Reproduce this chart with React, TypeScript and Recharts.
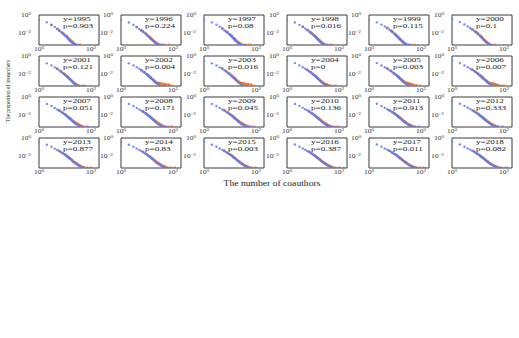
import { ScatterChart, Scatter, XAxis, YAxis, ReferenceArea } from 'recharts'

// years and test p-values shown in each panel
const years = [1995, 1996, 1997, 1998, 1999, 2000, 2001, 2002, 2003, 2004, 2005, 2006, 2007, 2008, 2009, 2010, 2011, 2012, 2013, 2014, 2015, 2016, 2017, 2018]
const pValues = ['0.903', '0.224', '0.08', '0.016', '0.115', '0.1', '0.121', '0.004', '0.016', '0', '0.003', '0.007', '0.051', '0.171', '0.045', '0.136', '0.913', '0.333', '0.877', '0.83', '0.003', '0.387', '0.011', '0.082']
const xTicks = [1, 100]
const yTicks = [1, 0.01]

// [number of coauthors, proportion of researchers]
const b1995 = [[1,.32],[2,.17],[3,.09],[4,.052],[5,.033],[6,.021],[7,.014],[8,.01],[9,.0075],[10,.0058],[11,.0045],[12,.0034],[13,.0028],[14,.0022],[15,.0016],[16,.0013],[18,.001],[20,.0008],[22,.00066],[25,.00055],[29,.00052],[34,.00052]]
const o1995 = [[3,.085],[5,.03],[6,.02],[8,.011],[9,.0085],[11,.0052],[12,.0042],[14,.0026],[15,.002],[17,.0015],[19,.0011],[21,.00085],[24,.0006],[27,.00052],[38,.00052]]
const b1996 = [[1,.34],[2,.16],[3,.088],[4,.05],[5,.031],[6,.021],[7,.015],[8,.011],[9,.0082],[10,.0063],[11,.0048],[12,.0038],[13,.003],[14,.0025],[15,.002],[17,.0015],[19,.0011],[21,.0009],[23,.0007],[26,.00058],[30,.00052],[36,.00052],[48,.00052]]
const o1996 = [[4,.05],[6,.022],[7,.016],[9,.009],[10,.0068],[12,.0043],[13,.0035],[15,.0024],[16,.0019],[18,.0014],[20,.0011],[22,.0009],[25,.0007],[28,.00058],[33,.00052],[42,.00052],[70,.00052]]
const b1997 = [[1,.35],[2,.17],[3,.09],[4,.054],[5,.034],[6,.022],[7,.016],[8,.012],[9,.0086],[10,.0065],[11,.005],[12,.0039],[13,.003],[14,.0023],[15,.0019],[16,.0015],[18,.0011],[20,.00085],[22,.0007],[25,.00055],[28,.00052],[35,.00052]]
const o1997 = [[5,.035],[7,.017],[8,.013],[10,.0072],[11,.0056],[12,.0045],[14,.003],[15,.0025],[17,.0017],[19,.0012],[21,.001],[23,.0008],[26,.00062],[30,.00052],[40,.00052],[55,.00052]]
const b1998 = [[1,.33],[2,.16],[3,.088],[4,.053],[5,.035],[6,.024],[7,.017],[8,.012],[9,.0092],[10,.007],[11,.0055],[12,.0043],[13,.0034],[14,.0027],[15,.0022],[16,.0018],[18,.0013],[20,.001],[22,.0008],[25,.00062],[28,.00052],[33,.00052],[45,.00052]]
const o1998 = [[4,.055],[6,.025],[8,.013],[9,.0098],[11,.006],[12,.0047],[13,.0038],[15,.0025],[17,.0018],[18,.0015],[20,.0011],[23,.00085],[26,.00065],[29,.00055],[36,.00052],[50,.00052]]
const b1999 = [[1,.36],[2,.17],[3,.095],[4,.058],[5,.038],[6,.026],[7,.018],[8,.013],[9,.0098],[10,.0075],[11,.0058],[12,.0046],[13,.0036],[14,.0029],[15,.0023],[16,.0019],[18,.0014],[20,.001],[22,.0008],[24,.00065],[27,.00055],[32,.00052],[40,.00052]]
const o1999 = [[5,.04],[7,.02],[8,.015],[10,.0085],[11,.0065],[12,.005],[14,.0032],[15,.0026],[16,.0021],[18,.0015],[20,.0012],[22,.0009],[25,.0007],[28,.00055],[34,.00052],[55,.00052]]
const b2000 = [[1,.37],[2,.18],[3,.1],[4,.06],[5,.04],[6,.027],[7,.019],[8,.014],[9,.011],[10,.0082],[11,.0064],[12,.005],[13,.004],[14,.0032],[15,.0026],[16,.0021],[18,.0015],[20,.0011],[22,.00088],[25,.00068],[28,.00056],[32,.00052],[38,.00052]]
const o2000 = [[6,.028],[8,.015],[9,.012],[10,.009],[12,.0055],[13,.0044],[14,.0036],[16,.0023],[17,.0019],[19,.0014],[21,.0011],[24,.0008],[27,.00062],[30,.00052],[45,.00052]]
const b2001 = [[1,.36],[2,.17],[3,.097],[4,.06],[5,.04],[6,.028],[7,.02],[8,.015],[9,.011],[10,.0086],[11,.0068],[12,.0054],[13,.0044],[14,.0036],[15,.003],[16,.0025],[18,.0018],[20,.0013],[22,.001],[24,.0008],[27,.00065],[30,.00055],[35,.00052],[45,.00052],[60,.00052]]
const o2001 = [[5,.042],[7,.021],[9,.012],[10,.0095],[12,.006],[13,.0048],[15,.0032],[16,.0027],[18,.0019],[19,.0016],[21,.0012],[23,.001],[25,.00085],[28,.00068],[31,.00058],[35,.00052],[50,.00052]]
const b2002 = [[1,.37],[2,.17],[3,.1],[4,.061],[5,.041],[6,.029],[7,.021],[8,.016],[9,.012],[10,.0092],[11,.0072],[12,.0058],[13,.0047],[14,.0038],[15,.0031],[16,.0026],[18,.0019],[20,.0014],[22,.0011],[25,.00085],[28,.00068],[31,.00056],[36,.00052],[45,.00052],[70,.00052]]
const o2002 = [[6,.03],[8,.017],[10,.01],[11,.008],[13,.0052],[14,.0043],[16,.003],[18,.0022],[20,.0016],[22,.0013],[25,.0011],[28,.00105],[32,.001],[38,.00085],[45,.0008],[55,.00075],[70,.0007],[90,.00052]]
const b2003 = [[1,.36],[2,.17],[3,.1],[4,.06],[5,.041],[6,.029],[7,.021],[8,.016],[9,.012],[10,.0093],[11,.0073],[12,.0059],[13,.0048],[14,.0039],[15,.0032],[16,.0027],[18,.0019],[20,.0014],[22,.0011],[25,.00083],[28,.00065],[32,.00055],[38,.00052],[50,.00052]]
const o2003 = [[5,.045],[7,.023],[9,.013],[11,.0082],[12,.0066],[14,.0044],[15,.0037],[17,.0026],[19,.0019],[21,.0015],[24,.0012],[27,.001],[30,.001],[35,.0009],[42,.0008],[50,.0008],[65,.0007],[85,.00052]]
const b2004 = [[1,.37],[2,.18],[3,.1],[4,.062],[5,.043],[6,.03],[7,.022],[8,.017],[9,.013],[10,.01],[11,.008],[12,.0064],[13,.0052],[14,.0042],[15,.0035],[16,.0029],[18,.0021],[20,.0016],[22,.0012],[25,.0009],[28,.0007],[32,.00058],[37,.00052],[48,.00052],[65,.00052]]
const o2004 = [[6,.032],[8,.018],[10,.011],[12,.0072],[13,.0058],[15,.0039],[17,.0028],[19,.002],[21,.0016],[23,.0013],[26,.001],[30,.00085],[34,.0007],[40,.0006],[50,.00052],[75,.00052]]
const b2005 = [[1,.38],[2,.18],[3,.1],[4,.063],[5,.043],[6,.031],[7,.023],[8,.017],[9,.013],[10,.01],[11,.0082],[12,.0066],[13,.0054],[14,.0044],[15,.0037],[16,.003],[18,.0022],[20,.0017],[22,.0013],[25,.00095],[28,.00075],[32,.0006],[36,.00052],[45,.00052],[60,.00052]]
const o2005 = [[5,.046],[7,.024],[9,.014],[11,.0088],[13,.006],[14,.005],[16,.0034],[18,.0025],[20,.0019],[22,.0015],[25,.0012],[28,.0011],[32,.001],[36,.0009],[42,.0008],[50,.0007],[65,.0006],[90,.00052]]
const b2006 = [[1,.38],[2,.18],[3,.1],[4,.064],[5,.044],[6,.032],[7,.024],[8,.018],[9,.014],[10,.011],[11,.0086],[12,.007],[13,.0057],[14,.0047],[15,.0039],[16,.0032],[18,.0024],[20,.0018],[22,.0014],[25,.001],[28,.0008],[32,.00064],[36,.00054],[45,.00052],[60,.00052],[80,.00052]]
const o2006 = [[6,.034],[8,.019],[10,.012],[12,.0078],[14,.0054],[15,.0045],[17,.0032],[19,.0024],[21,.0018],[23,.0015],[26,.0012],[29,.00105],[33,.00098],[38,.0009],[44,.0008],[52,.0007],[62,.0006],[80,.00052],[100,.00052]]
const b2007 = [[1,.38],[2,.19],[3,.11],[4,.066],[5,.045],[6,.033],[7,.025],[8,.019],[9,.015],[10,.012],[11,.0094],[12,.0077],[13,.0063],[14,.0052],[15,.0043],[16,.0036],[18,.0027],[20,.002],[22,.0016],[25,.0012],[28,.00092],[32,.00072],[36,.00058],[42,.00052],[55,.00052],[75,.00052]]
const o2007 = [[6,.035],[8,.02],[10,.013],[12,.0085],[14,.006],[16,.0044],[18,.0032],[20,.0024],[22,.0019],[24,.0016],[27,.0013],[30,.0011],[34,.0009],[38,.00075],[44,.00062],[52,.00052],[70,.00052]]
const b2008 = [[1,.39],[2,.19],[3,.11],[4,.067],[5,.046],[6,.034],[7,.026],[8,.02],[9,.016],[10,.012],[11,.0098],[12,.008],[13,.0066],[14,.0055],[15,.0046],[16,.0038],[18,.0028],[20,.0021],[22,.0016],[25,.0012],[28,.00095],[32,.00075],[36,.0006],[42,.00052],[55,.00052],[80,.00052]]
const o2008 = [[7,.027],[9,.016],[11,.011],[13,.0072],[15,.0052],[17,.0038],[19,.0029],[21,.0023],[23,.0018],[26,.0014],[29,.0011],[33,.0009],[37,.00075],[43,.00062],[50,.00054],[65,.00052],[90,.00052]]
const b2009 = [[1,.39],[2,.19],[3,.11],[4,.068],[5,.047],[6,.035],[7,.026],[8,.02],[9,.016],[10,.013],[11,.01],[12,.0083],[13,.0069],[14,.0057],[15,.0048],[16,.004],[18,.003],[20,.0022],[22,.0017],[25,.0013],[28,.001],[32,.0008],[36,.00064],[42,.00054],[50,.00052],[65,.00052],[90,.00052]]
const o2009 = [[6,.037],[8,.021],[10,.014],[12,.0092],[14,.0065],[16,.0047],[18,.0035],[20,.0027],[22,.0021],[25,.0016],[28,.0013],[31,.0011],[35,.0009],[40,.00075],[47,.00062],[56,.00054],[75,.00052]]
const b2010 = [[1,.4],[2,.19],[3,.11],[4,.069],[5,.048],[6,.036],[7,.027],[8,.021],[9,.017],[10,.013],[11,.011],[12,.0088],[13,.0072],[14,.006],[15,.005],[16,.0042],[18,.0031],[20,.0023],[22,.0018],[25,.0014],[28,.0011],[32,.00085],[36,.00068],[42,.00056],[50,.00052],[70,.00052],[95,.00052]]
const o2010 = [[7,.029],[9,.017],[11,.012],[13,.0078],[15,.0057],[17,.0042],[19,.0032],[21,.0025],[24,.0019],[27,.0015],[30,.0012],[34,.00095],[38,.0008],[44,.00066],[52,.00056],[65,.00052],[85,.00052]]
const b2011 = [[1,.4],[2,.2],[3,.11],[4,.07],[5,.049],[6,.036],[7,.028],[8,.022],[9,.017],[10,.014],[11,.011],[12,.009],[13,.0075],[14,.0063],[15,.0053],[16,.0045],[18,.0033],[20,.0025],[22,.0019],[25,.0015],[28,.0012],[32,.00092],[36,.00074],[42,.0006],[48,.00052],[60,.00052],[85,.00052]]
const o2011 = [[6,.038],[8,.022],[10,.015],[12,.01],[14,.007],[16,.0051],[18,.0038],[20,.0029],[23,.0021],[26,.0016],[29,.0013],[33,.001],[37,.00085],[42,.0007],[48,.00058],[58,.00052],[80,.00052]]
const b2012 = [[1,.4],[2,.2],[3,.11],[4,.071],[5,.05],[6,.037],[7,.028],[8,.022],[9,.018],[10,.014],[11,.011],[12,.0093],[13,.0078],[14,.0065],[15,.0055],[16,.0047],[18,.0035],[20,.0026],[22,.002],[25,.0016],[28,.0012],[32,.00095],[36,.00077],[42,.00062],[48,.00054],[60,.00052],[90,.00052]]
const o2012 = [[7,.03],[9,.018],[11,.012],[13,.0083],[15,.006],[17,.0045],[19,.0034],[21,.0027],[24,.002],[27,.0016],[30,.0013],[34,.001],[39,.00085],[45,.0007],[52,.0006],[62,.00052],[85,.00052]]
const b2013 = [[1,.41],[2,.2],[3,.12],[4,.072],[5,.051],[6,.038],[7,.029],[8,.023],[9,.018],[10,.015],[11,.012],[12,.0097],[13,.0081],[14,.0068],[15,.0058],[16,.0049],[18,.0036],[20,.0027],[22,.0021],[25,.0016],[28,.0013],[32,.001],[36,.0008],[42,.00065],[48,.00056],[58,.00052],[75,.00052],[110,.00052]]
const o2013 = [[6,.04],[8,.023],[10,.015],[12,.011],[14,.0075],[16,.0055],[18,.0041],[20,.0031],[23,.0023],[26,.0018],[29,.0014],[33,.0011],[37,.0009],[42,.00075],[48,.00063],[55,.00054],[70,.00052],[95,.00052]]
const b2014 = [[1,.41],[2,.2],[3,.12],[4,.073],[5,.052],[6,.039],[7,.03],[8,.023],[9,.019],[10,.015],[11,.012],[12,.01],[13,.0085],[14,.0071],[15,.006],[16,.0051],[18,.0038],[20,.0029],[22,.0022],[25,.0017],[28,.0013],[32,.001],[36,.00084],[42,.00068],[48,.00058],[56,.00052],[75,.00052],[120,.00052]]
const o2014 = [[7,.032],[9,.019],[11,.013],[13,.009],[15,.0065],[17,.0049],[19,.0037],[21,.0029],[24,.0022],[27,.0017],[30,.0014],[34,.0011],[39,.0009],[45,.00074],[52,.00062],[60,.00054],[80,.00052],[110,.00052]]
const b2015 = [[1,.42],[2,.2],[3,.12],[4,.074],[5,.053],[6,.04],[7,.03],[8,.024],[9,.019],[10,.016],[11,.013],[12,.011],[13,.0088],[14,.0074],[15,.0063],[16,.0053],[18,.004],[20,.003],[22,.0023],[25,.0018],[28,.0014],[32,.0011],[36,.00088],[42,.00071],[48,.0006],[56,.00053],[70,.00052],[100,.00052]]
const o2015 = [[6,.042],[8,.024],[10,.016],[12,.011],[14,.0078],[16,.0058],[18,.0044],[20,.0034],[23,.0025],[26,.0019],[29,.0015],[33,.0012],[37,.00095],[42,.00078],[48,.00065],[55,.00056],[65,.00052],[90,.00052]]
const b2016 = [[1,.42],[2,.21],[3,.12],[4,.075],[5,.054],[6,.04],[7,.031],[8,.025],[9,.02],[10,.016],[11,.013],[12,.011],[13,.0091],[14,.0077],[15,.0065],[16,.0056],[18,.0042],[20,.0032],[22,.0025],[25,.0019],[28,.0015],[32,.0012],[36,.00094],[42,.00075],[48,.00063],[56,.00055],[70,.00052],[100,.00052],[150,.00052]]
const o2016 = [[7,.033],[9,.02],[11,.014],[13,.0095],[15,.0069],[17,.0052],[19,.004],[21,.0032],[24,.0024],[27,.0018],[30,.0015],[34,.0012],[39,.00095],[45,.00078],[52,.00065],[60,.00056],[75,.00052],[105,.00052]]
const b2017 = [[1,.43],[2,.21],[3,.12],[4,.076],[5,.055],[6,.041],[7,.032],[8,.025],[9,.02],[10,.017],[11,.014],[12,.011],[13,.0094],[14,.0079],[15,.0067],[16,.0058],[18,.0044],[20,.0033],[22,.0026],[25,.002],[28,.0016],[32,.0012],[36,.001],[42,.0008],[48,.00066],[56,.00057],[66,.00052],[90,.00052],[140,.00052]]
const o2017 = [[6,.043],[8,.025],[10,.017],[12,.012],[14,.0082],[16,.0061],[18,.0047],[20,.0036],[23,.0027],[26,.0021],[29,.0016],[33,.0013],[37,.001],[42,.00084],[48,.0007],[55,.0006],[65,.00053],[85,.00052],[120,.00052]]
const b2018 = [[1,.43],[2,.21],[3,.12],[4,.077],[5,.056],[6,.042],[7,.033],[8,.026],[9,.021],[10,.017],[11,.014],[12,.012],[13,.0097],[14,.0082],[15,.007],[16,.006],[18,.0046],[20,.0035],[22,.0027],[25,.0021],[28,.0016],[32,.0013],[36,.001],[42,.00084],[48,.0007],[56,.0006],[66,.00053],[85,.00052],[130,.00052]]
const o2018 = [[7,.034],[9,.021],[11,.014],[13,.0098],[15,.0072],[17,.0055],[19,.0042],[21,.0033],[24,.0025],[27,.0019],[30,.0015],[34,.0012],[39,.00098],[45,.0008],[52,.00066],[60,.00056],[75,.00052],[110,.00052]]

const blueSeries = [b1995, b1996, b1997, b1998, b1999, b2000, b2001, b2002, b2003, b2004, b2005, b2006, b2007, b2008, b2009, b2010, b2011, b2012, b2013, b2014, b2015, b2016, b2017, b2018]
const orangeSeries = [o1995, o1996, o1997, o1998, o1999, o2000, o2001, o2002, o2003, o2004, o2005, o2006, o2007, o2008, o2009, o2010, o2011, o2012, o2013, o2014, o2015, o2016, o2017, o2018]

const X_DOMAIN = [1, 200]
const Y_DOMAIN = [0.0005, 1.12]
const colLefts = [39, 121, 204, 287, 369, 452]
const rowTops = [15, 56, 97, 138]
const BLUE = '#5b79f2'
const ORANGE = '#f2651c'
const SERIF = '"Liberation Serif", "DejaVu Serif", serif'

const toPoints = (arr: number[][]) => arr.map(([x, y]) => ({ x, y }))

const dot = (color: string, r: number) => (props: any) => (
  <circle cx={props.cx} cy={props.cy} r={r} fill={color} fillOpacity={0.85} />
)

function XTick(props: any) {
  const { x, y, payload } = props
  const exp = payload.value === 1 ? '0' : '2'
  return (
    <g transform={`translate(${x},${y})`}>
      <text x={0} y={4} textAnchor="middle" fontSize={6} fontFamily={SERIF} fill="#333" transform="scale(1.25,1)">
        10<tspan dy={-2.5} fontSize={4.2}>{exp}</tspan>
      </text>
    </g>
  )
}

function YTick(props: any) {
  const { x, y, payload } = props
  const exp = payload.value === 1 ? '0' : '\u22122'
  return (
    <g transform={`translate(${x},${y})`}>
      <text x={0} y={2} textAnchor="end" fontSize={6} fontFamily={SERIF} fill="#333" transform="scale(1.25,1)">
        10<tspan dy={-2.5} fontSize={4.2}>{exp}</tspan>
      </text>
    </g>
  )
}

function Panel({ i }: { i: number }) {
  const left = colLefts[i % 6]
  const top = rowTops[Math.floor(i / 6)]
  return (
    <div style={{ position: 'absolute', left: left - 22, top: top - 4 }}>
      <ScatterChart width={84} height={48} margin={{ top: 4, right: 2, bottom: 0, left: 0 }}>
        <XAxis type="number" dataKey="x" scale="log" domain={X_DOMAIN} allowDataOverflow ticks={xTicks} interval={0}
          tick={<XTick />} tickLine={false} tickSize={0} axisLine={false} height={14} />
        <YAxis type="number" dataKey="y" scale="log" domain={Y_DOMAIN} allowDataOverflow ticks={yTicks} interval={0}
          tick={<YTick />} tickLine={false} axisLine={false} width={22} />
        <ReferenceArea x1={X_DOMAIN[0]} x2={X_DOMAIN[1]} y1={Y_DOMAIN[0]} y2={Y_DOMAIN[1]} fill="none" stroke="#3a3a3a" strokeWidth={1} ifOverflow="visible" />
        <Scatter data={toPoints(orangeSeries[i])} shape={dot(ORANGE, 1.4)} isAnimationActive={false} />
        <Scatter data={toPoints(blueSeries[i])} shape={dot(BLUE, 1.2)} isAnimationActive={false} />
      </ScatterChart>
      <div style={{ position: 'absolute', left: 46, top: 5, fontFamily: SERIF, fontSize: 7, lineHeight: '6.5px', color: '#222', transform: 'scaleX(1.3)', transformOrigin: 'left top', whiteSpace: 'nowrap' }}>
        <div>y={years[i]}</div>
        <div>p={pValues[i]}</div>
      </div>
    </div>
  )
}

export default function App() {
  return (
    <div style={{ position: 'absolute', left: 0, top: 0, width: 519, height: 338, background: '#fff' }}>
      {years.map((_, i) => <Panel key={years[i]} i={i} />)}
      <div style={{ position: 'absolute', left: 8, top: 91, fontFamily: SERIF, fontSize: 7, color: '#222', whiteSpace: 'nowrap', transform: 'translate(-50%,-50%) rotate(-90deg) scaleX(0.75)' }}>
        The proportion of researchers
      </div>
      <div style={{ position: 'absolute', left: 272, top: 183, fontFamily: SERIF, fontSize: 8, color: '#222', whiteSpace: 'nowrap', transform: 'translate(-50%,-50%) scaleX(1.2)' }}>
        The number of coauthors
      </div>
    </div>
  )
}
